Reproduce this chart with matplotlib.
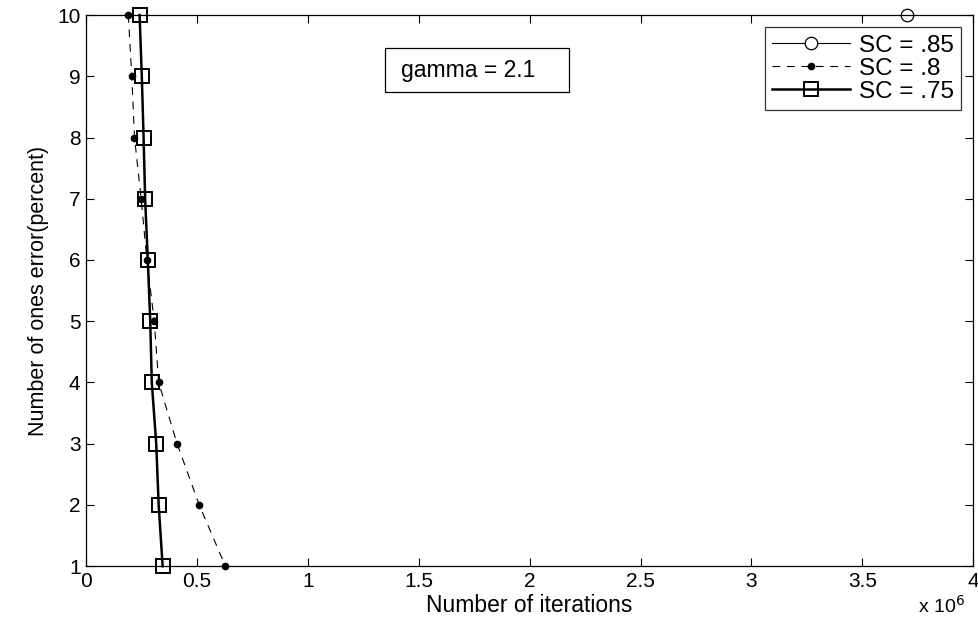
import numpy as np
import matplotlib.pyplot as plt
from matplotlib.patches import Rectangle
from matplotlib.ticker import FuncFormatter

plt.rcParams['font.family'] = ['Liberation Sans', 'DejaVu Sans']

# error level (percent) on the y axis
errors = [10, 9, 8, 7, 6, 5, 4, 3, 2, 1]

# iterations needed for each SC value
sc85_err = [10]
sc85_iter = [3.70e6]
sc80_iter = [0.190e6, 0.206e6, 0.218e6, 0.248e6, 0.274e6,
             0.307e6, 0.327e6, 0.410e6, 0.510e6, 0.628e6]
sc75_iter = [0.241e6, 0.251e6, 0.259e6, 0.266e6, 0.278e6,
             0.289e6, 0.296e6, 0.316e6, 0.327e6, 0.345e6]

fig = plt.figure(figsize=(9.79, 6.27), dpi=100)
ax = fig.add_axes([0.088, 0.097, 0.906, 0.879])

ax.plot(sc85_iter, sc85_err, '-', color='black', lw=0.8, clip_on=False,
        marker='o', ms=9, mfc='white', mec='black', mew=0.9, label='SC = .85')
ax.plot(sc80_iter, errors, '--', color='black', lw=0.8, dashes=(7, 6),
        clip_on=False, marker='o', ms=4.5, mfc='black', mec='black',
        label='SC = .8')
ax.plot(sc75_iter, errors, '-', color='black', lw=1.8, clip_on=False,
        marker='s', ms=10, mfc='none', mec='black', mew=1.4, label='SC = .75')

ax.set_xlim(0, 4e6)
ax.set_ylim(1, 10)
ax.set_xticks(np.arange(0, 4.01e6, 0.5e6))
ax.set_yticks(np.arange(1, 11))
ax.xaxis.set_major_formatter(FuncFormatter(lambda v, p: '%g' % (v / 1e6)))
ax.tick_params(direction='in', top=True, right=True, labelsize=15, length=6,
               width=0.8, pad=4)
for s in ax.spines.values():
    s.set_linewidth(0.9)

ax.set_xlabel('Number of iterations', fontsize=16.5, labelpad=2)
ax.set_ylabel('Number of ones error(percent)', fontsize=15.5, labelpad=6)
fig.text(0.962, 0.022, r'x 10$^6$', fontsize=14, ha='center')

# annotation box with the gamma value
ax.add_patch(Rectangle((0.337, 0.860), 0.207, 0.080, transform=ax.transAxes,
                       fc='white', ec='black', lw=0.9, zorder=3))
ax.text(0.355, 0.900, 'gamma = 2.1', transform=ax.transAxes, fontsize=16.5,
        va='center', ha='left', zorder=4)

leg = ax.legend(loc='upper right', fontsize=17.5, frameon=True, fancybox=False,
                edgecolor='black', handlelength=3.2, borderpad=0.3,
                labelspacing=0.05, borderaxespad=0.5, handletextpad=0.35)
leg.get_frame().set_linewidth(0.9)

fig.savefig('out.png', dpi=100)
